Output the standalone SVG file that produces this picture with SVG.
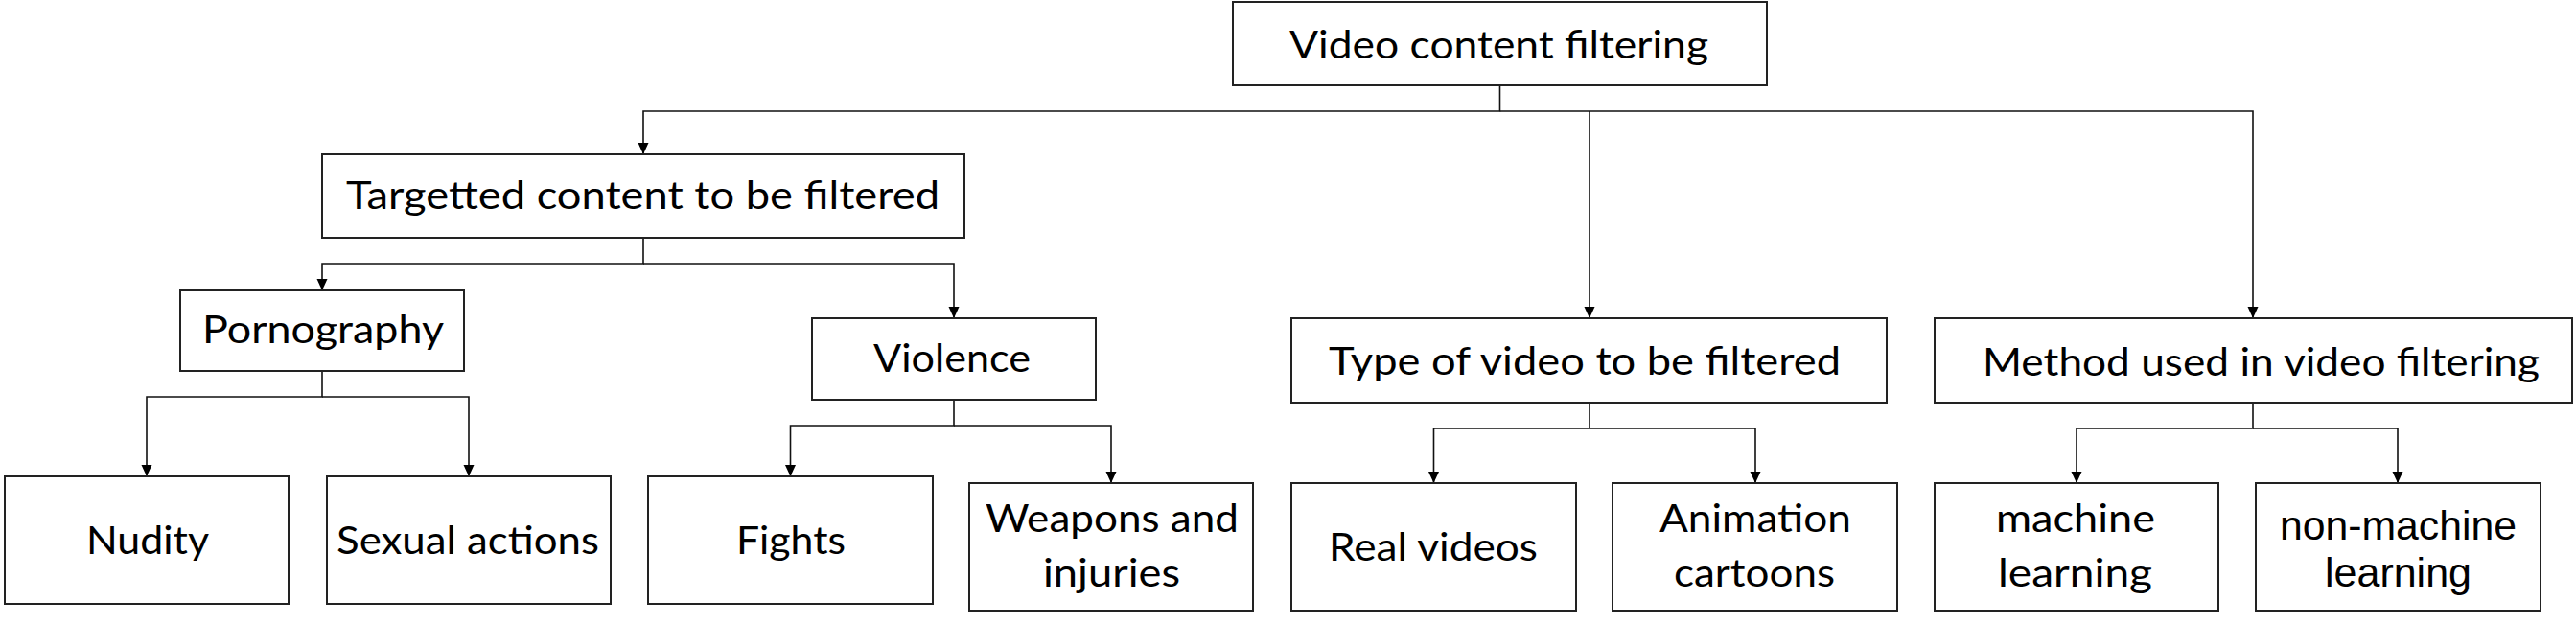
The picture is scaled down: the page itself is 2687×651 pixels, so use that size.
<svg xmlns="http://www.w3.org/2000/svg" width="2687" height="651" viewBox="0 0 2687 651">
<style>
.box{fill:#fff;stroke:#222;stroke-width:2}
.lbl{font-family:Lato,"Open Sans","Liberation Sans",sans-serif;font-size:41px;fill:#000}
.lbl2{font-family:"Liberation Sans",Arial,sans-serif;font-size:42px;fill:#000}
.con{fill:none;stroke:#111;stroke-width:1.6}
</style>
<defs>
<marker id="arr" markerUnits="userSpaceOnUse" markerWidth="12" markerHeight="12" refX="12" refY="5.5" orient="auto">
<path d="M0,0 L12,5.5 L0,11 z" fill="#000"/>
</marker>
</defs>
<rect width="2687" height="651" fill="#fff"/>
<g id="connectors">
<path class="con" d="M1564.5,89 V116 H671 V161" marker-end="url(#arr)"/>
<path class="con" d="M1564.5,116 H1658 V332" marker-end="url(#arr)"/>
<path class="con" d="M1658,116 H2350 V332" marker-end="url(#arr)"/>
<path class="con" d="M671,248 V275 H336 V303" marker-end="url(#arr)"/>
<path class="con" d="M671,275 H995 V332" marker-end="url(#arr)"/>
<path class="con" d="M336,387 V414 H153 V497" marker-end="url(#arr)"/>
<path class="con" d="M336,414 H489 V497" marker-end="url(#arr)"/>
<path class="con" d="M995,417 V444 H824.5 V497" marker-end="url(#arr)"/>
<path class="con" d="M995,444 H1159 V504" marker-end="url(#arr)"/>
<path class="con" d="M1658,420 V447 H1495.5 V504" marker-end="url(#arr)"/>
<path class="con" d="M1658,447 H1831 V504" marker-end="url(#arr)"/>
<path class="con" d="M2350,420 V447 H2166 V504" marker-end="url(#arr)"/>
<path class="con" d="M2350,447 H2501 V504" marker-end="url(#arr)"/>
</g>
<g id="root">
<rect class="box" x="1286" y="2" width="557" height="87"/>
<text class="lbl" x="1345" y="61" textLength="437" lengthAdjust="spacingAndGlyphs">Video content filtering</text>
</g>
<g id="targetted">
<rect class="box" x="336" y="161" width="670" height="87"/>
<text class="lbl" x="361" y="218" textLength="619" lengthAdjust="spacingAndGlyphs">Targetted content to be filtered</text>
</g>
<g id="pornography">
<rect class="box" x="188" y="303" width="296" height="84"/>
<text class="lbl" x="211" y="358" textLength="252" lengthAdjust="spacingAndGlyphs">Pornography</text>
</g>
<g id="violence">
<rect class="box" x="847" y="332" width="296" height="85"/>
<text class="lbl" x="911" y="388" textLength="164" lengthAdjust="spacingAndGlyphs">Violence</text>
</g>
<g id="type">
<rect class="box" x="1347" y="332" width="621" height="88"/>
<text class="lbl" x="1386" y="391" textLength="534" lengthAdjust="spacingAndGlyphs">Type of video to be filtered</text>
</g>
<g id="method">
<rect class="box" x="2018" y="332" width="665" height="88"/>
<text class="lbl" x="2068" y="391.5" textLength="581" lengthAdjust="spacingAndGlyphs">Method used in video filtering</text>
</g>
<g id="nudity">
<rect class="box" x="5" y="497" width="296" height="133"/>
<text class="lbl" x="90" y="578" textLength="128" lengthAdjust="spacingAndGlyphs">Nudity</text>
</g>
<g id="sexual">
<rect class="box" x="341" y="497" width="296" height="133"/>
<text class="lbl" x="351" y="578" textLength="274" lengthAdjust="spacingAndGlyphs">Sexual actions</text>
</g>
<g id="fights">
<rect class="box" x="676" y="497" width="297" height="133"/>
<text class="lbl" x="768" y="578" textLength="114" lengthAdjust="spacingAndGlyphs">Fights</text>
</g>
<g id="weapons">
<rect class="box" x="1011" y="504" width="296" height="133"/>
<text class="lbl" x="1028" y="555" textLength="264" lengthAdjust="spacingAndGlyphs">Weapons and</text>
<text class="lbl" x="1088" y="612" textLength="143" lengthAdjust="spacingAndGlyphs">injuries</text>
</g>
<g id="real">
<rect class="box" x="1347" y="504" width="297" height="133"/>
<text class="lbl" x="1386" y="585" textLength="218" lengthAdjust="spacingAndGlyphs">Real videos</text>
</g>
<g id="animation">
<rect class="box" x="1682" y="504" width="297" height="133"/>
<text class="lbl" x="1731" y="555" textLength="200" lengthAdjust="spacingAndGlyphs">Animation</text>
<text class="lbl" x="1746" y="612" textLength="168" lengthAdjust="spacingAndGlyphs">cartoons</text>
</g>
<g id="machine">
<rect class="box" x="2018" y="504" width="296" height="133"/>
<text class="lbl" x="2082" y="555" textLength="166" lengthAdjust="spacingAndGlyphs">machine</text>
<text class="lbl" x="2084" y="612" textLength="161" lengthAdjust="spacingAndGlyphs">learning</text>
</g>
<g id="nonmachine">
<rect class="box" x="2353" y="504" width="297" height="133"/>
<text class="lbl2" x="2378" y="563" textLength="247" lengthAdjust="spacingAndGlyphs">non-machine</text>
<text class="lbl2" x="2425" y="612" textLength="153" lengthAdjust="spacingAndGlyphs">learning</text>
</g>
</svg>
